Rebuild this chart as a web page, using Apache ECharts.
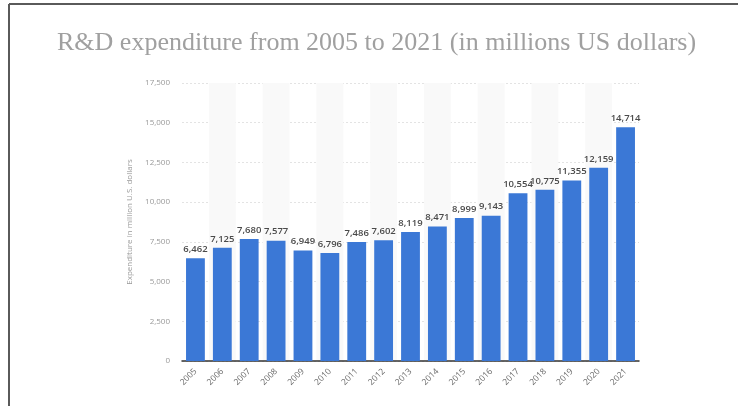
<!DOCTYPE html>
<html>
<head>
<meta charset="utf-8">
<script src="https://cdn.jsdelivr.net/npm/echarts@6/dist/echarts.min.js"></script>
<style>
  html, body { margin: 0; padding: 0; background: #fff; }
  #chart { width: 738px; height: 406px; }
</style>
</head>
<body>
<div id="chart"></div>
<script>
// Annual R&D spending, millions of US dollars
const years = ['2005', '2006', '2007', '2008', '2009', '2010', '2011', '2012', '2013',
  '2014', '2015', '2016', '2017', '2018', '2019', '2020', '2021'];
const expenditure = [6462, 7125, 7680, 7577, 6949, 6796, 7486, 7602, 8119,
  8471, 8999, 9143, 10554, 10775, 11355, 12159, 14714];
const yTicks = [0, 2500, 5000, 7500, 10000, 12500, 15000, 17500];

const chart = echarts.init(document.getElementById('chart'), null, { renderer: 'canvas' });
const fmt = v => v.toLocaleString('en-US');

chart.setOption({
  animation: false,
  backgroundColor: '#ffffff',
  title: {
    text: 'R&D expenditure from 2005 to 2021 (in millions US dollars)',
    left: 52,
    top: 25,
    textStyle: {
      fontFamily: 'Liberation Serif',
      fontWeight: 'normal',
      fontSize: 26,
      color: '#a0a0a0'
    }
  },
  graphic: [
    { type: 'line', shape: { x1: 9, y1: 4, x2: 738, y2: 4 }, style: { stroke: '#5a5a5a', lineWidth: 2 } },
    { type: 'line', shape: { x1: 9, y1: 4, x2: 9, y2: 406 }, style: { stroke: '#5a5a5a', lineWidth: 2 } }
  ],
  grid: { left: 182, right: 99, top: 83, bottom: 45 },
  xAxis: {
    type: 'category',
    data: years,
    axisLine: { lineStyle: { color: '#333', width: 1.5 } },
    axisTick: { show: false },
    axisLabel: {
      rotate: 45,
      fontFamily: 'Open Sans',
      fontSize: 8.5,
      color: '#666',
      margin: 9
    },
    splitArea: { show: true, areaStyle: { color: ['rgba(255,255,255,0)', '#f9f9f9'] } }
  },
  yAxis: {
    type: 'value',
    min: yTicks[0],
    max: yTicks[yTicks.length - 1],
    interval: 2500,
    name: 'Expenditure in million U.S. dollars',
    nameLocation: 'middle',
    nameGap: 44,
    nameTextStyle: { fontFamily: 'Open Sans', fontSize: 8, color: '#999' },
    axisLine: { show: false },
    axisTick: { show: false },
    axisLabel: {
      fontFamily: 'Open Sans',
      fontSize: 8,
      color: '#999',
      margin: 12,
      formatter: v => fmt(v)
    },
    splitLine: { lineStyle: { color: '#dcdcdc', type: [2, 2], width: 0.8 } }
  },
  series: [{
    type: 'bar',
    data: expenditure,
    barCategoryGap: '30%',
    itemStyle: { color: '#3b78d6' },
    label: {
      show: true,
      position: 'top',
      distance: 4,
      fontFamily: 'Open Sans',
      fontWeight: 600,
      fontSize: 9.5,
      color: '#4a4a4a',
      formatter: p => fmt(p.value)
    }
  }]
});
</script>
</body>
</html>
